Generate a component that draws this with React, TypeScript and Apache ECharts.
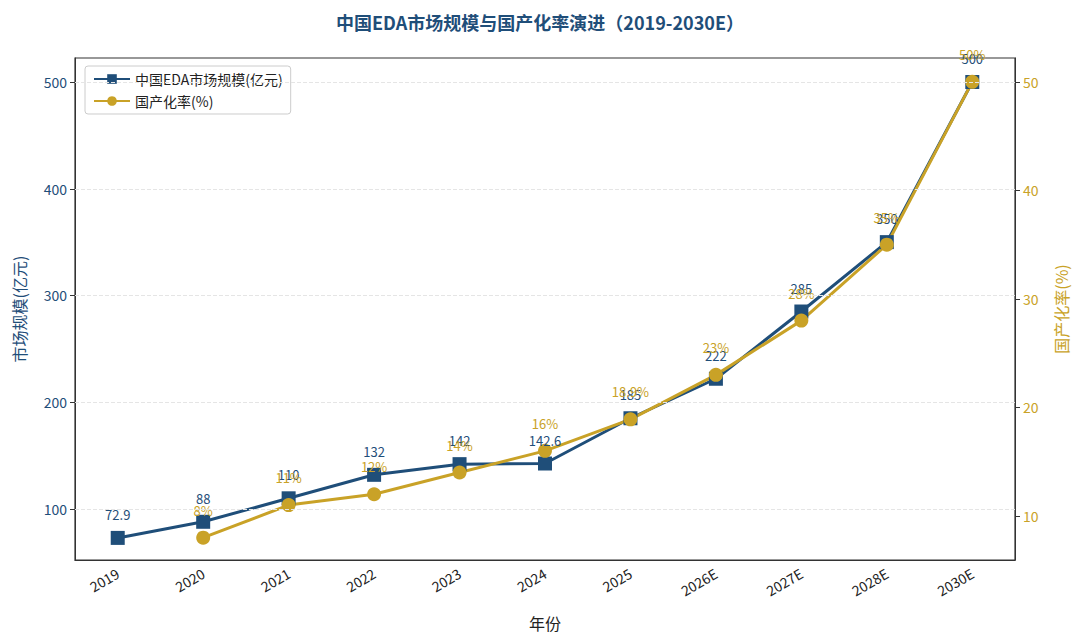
import React, { useEffect, useRef } from "react";
import * as echarts from "echarts";

const years = ["2019", "2020", "2021", "2022", "2023", "2024", "2025", "2026E", "2027E", "2028E", "2030E"];
const marketSize = [72.9, 88, 110, 132, 142, 142.6, 185, 222, 285, 350, 500];
const localRate = [null, 8, 11, 12, 14, 16, 18.9, 23, 28, 35, 50];
const sizeTicks = [100, 200, 300, 400, 500];
const rateTicks = [10, 20, 30, 40, 50];

const BLUE = "#1f4e79";
const GOLD = "#c9a227";
const FONT = "'Noto Sans CJK SC', 'Noto Sans', sans-serif";

export default function App() {
  const chartRef = useRef<HTMLDivElement>(null);

  useEffect(() => {
    const chart = echarts.init(chartRef.current!, undefined, { renderer: "svg" });

    chart.setOption({
      animation: false,
      textStyle: { fontFamily: FONT },
      title: {
        text: "中国EDA市场规模与国产化率演进（2019-2030E）",
        left: "center",
        top: 8,
        textStyle: { fontSize: 18, fontWeight: "bold", color: BLUE },
      },
      legend: {
        left: 85,
        top: 66,
        orient: "vertical",
        itemGap: 8,
        itemWidth: 36,
        itemHeight: 12,
        borderColor: "#ccc",
        borderWidth: 1,
        borderRadius: 3,
        padding: [6, 8],
        textStyle: { fontSize: 14, color: "#222" },
        data: ["中国EDA市场规模(亿元)", "国产化率(%)"],
      },
      grid: { left: 75, right: 65, top: 58, bottom: 84, show: true, borderColor: "#333", borderWidth: 1.2 },
      xAxis: {
        type: "category",
        data: years,
        name: "年份",
        nameLocation: "middle",
        nameGap: 55,
        nameTextStyle: { fontSize: 16, color: "#222" },
        axisLine: { lineStyle: { color: "#333" } },
        axisTick: { alignWithLabel: true, lineStyle: { color: "#333" } },
        axisLabel: { rotate: 30, fontSize: 14, color: "#222", margin: 12 },
      },
      yAxis: [
        {
          type: "value",
          min: 52.2,
          max: 522.5,
          name: "市场规模(亿元)",
          nameLocation: "middle",
          nameGap: 48,
          nameTextStyle: { fontSize: 16, color: BLUE },
          axisLine: { show: true, lineStyle: { color: "#333" } },
          axisTick: { show: true, customValues: sizeTicks },
          axisLabel: { fontSize: 14, color: BLUE, customValues: sizeTicks },
          splitLine: { show: false },
        },
        {
          type: "value",
          min: 5.94,
          max: 52.2,
          name: "国产化率(%)",
          nameLocation: "middle",
          nameGap: 38,
          nameTextStyle: { fontSize: 16, color: GOLD },
          axisLine: { show: true, lineStyle: { color: "#333" } },
          axisTick: { show: true, customValues: rateTicks },
          axisLabel: { fontSize: 14, color: GOLD, customValues: rateTicks },
          splitLine: { show: false },
        },
      ],
      series: [
        {
          name: "中国EDA市场规模(亿元)",
          type: "line",
          data: marketSize,
          yAxisIndex: 0,
          symbol: "rect",
          symbolSize: 14,
          lineStyle: { color: BLUE, width: 3 },
          itemStyle: { color: BLUE },
          label: { show: true, position: "top", distance: 10, fontSize: 13, color: BLUE },
          markLine: {
            silent: true,
            symbol: "none",
            label: { show: false },
            lineStyle: { type: "dashed", color: "#e5e5e5", width: 1 },
            data: sizeTicks.map((v) => ({ yAxis: v })),
          },
        },
        {
          name: "国产化率(%)",
          type: "line",
          data: localRate,
          yAxisIndex: 1,
          symbol: "circle",
          symbolSize: 14,
          lineStyle: { color: GOLD, width: 3 },
          itemStyle: { color: GOLD },
          label: {
            show: true,
            position: "top",
            distance: 14,
            fontSize: 13,
            color: GOLD,
            formatter: (p: any) => `${p.value}%`,
          },
        },
      ],
    });

    return () => {
      chart.dispose();
    };
  }, []);

  return (
    <div style={{ position: "absolute", left: 0, top: 0, width: 1080, height: 644, background: "#fff" }}>
      <div ref={chartRef} style={{ width: 1080, height: 644 }} />
    </div>
  );
}
